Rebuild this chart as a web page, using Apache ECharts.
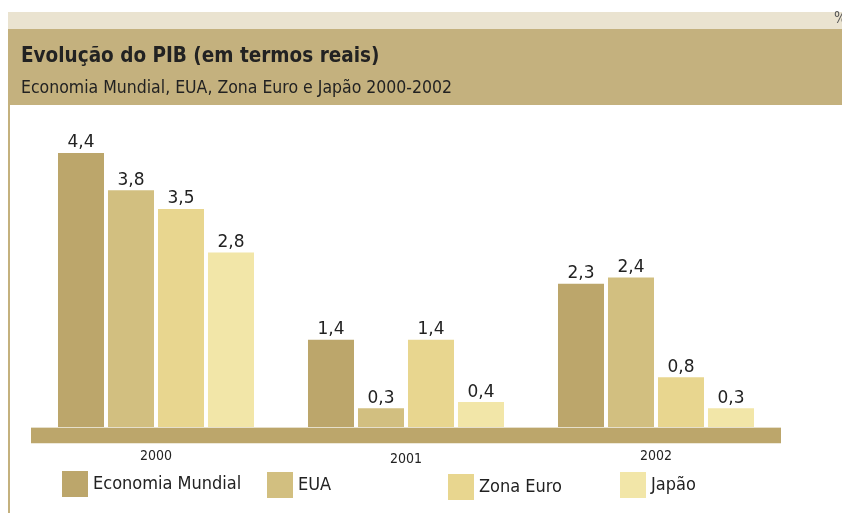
<!DOCTYPE html>
<html>
<head>
<meta charset="utf-8">
<script src="https://cdn.jsdelivr.net/npm/echarts@6/dist/echarts.min.js"></script>
<style>html,body{margin:0;padding:0;background:#fff}#c{width:842px;height:513px}</style>
</head>
<body>
<div id="c"></div>
<script>
const categories = ['2000', '2001', '2002'];
const economiaMundial = [4.4, 1.4, 2.3];
const eua = [3.8, 0.3, 2.4];
const zonaEuro = [3.5, 1.4, 0.8];
const japao = [2.8, 0.4, 0.3];
const seriesNames = ['Economia Mundial', 'EUA', 'Zona Euro', 'Japão'];
const seriesData = [economiaMundial, eua, zonaEuro, japao];
const colors = ['#BCA66B', '#D2BF80', '#E8D68F', '#F2E6A8'];

const chart = echarts.init(document.getElementById('c'));
const fmt = p => String(p.value).replace('.', ',');

const series = seriesData.map((d, i) => {
  const s = {
    name: seriesNames[i],
    type: 'bar',
    data: d,
    barWidth: 46,
    barGap: '8.7%',
    itemStyle: { color: colors[i] },
    label: {
      show: true, position: 'top', distance: 1.5, formatter: fmt,
      fontFamily: 'DejaVu Sans', fontSize: 17, color: '#222'
    },
    emphasis: { disabled: true }
  };
  if (i === 0) {
    s.markArea = {
      silent: true,
      itemStyle: { color: '#BCA66B' },
      data: [[{ yAxis: -0.26 }, { yAxis: 0 }]]
    };
    s.markLine = {
      silent: true, symbol: 'none', label: { show: false },
      lineStyle: { color: '#E6DFCB', width: 1, type: 'solid' },
      data: [{ yAxis: 0 }]
    };
  }
  return s;
});

const legendPos = [[62, 471], [267, 472], [448, 474], [620, 472]];
const legends = seriesNames.map((n, i) => ({
  data: [n], left: legendPos[i][0], top: legendPos[i][1], padding: 0,
  icon: 'rect', itemWidth: 26, itemHeight: 26, selectedMode: false,
  textStyle: { fontFamily: 'DejaVu Sans Condensed', fontSize: 18, color: '#222' }
}));

chart.setOption({
  animation: false,
  backgroundColor: '#fff',
  title: [
    {
      text: 'Evolução do PIB (em termos reais)',
      left: 21, top: 46, padding: 0,
      textStyle: { fontFamily: 'DejaVu Sans Condensed', fontSize: 20.5, fontWeight: 'bold', color: '#222' }
    },
    {
      text: 'Economia Mundial, EUA, Zona Euro e Japão 2000-2002',
      left: 21, top: 79, padding: 0,
      textStyle: { fontFamily: 'DejaVu Sans Condensed', fontSize: 17.5, fontWeight: 'normal', color: '#222' }
    }
  ],
  graphic: [
    { type: 'rect', z: -10, shape: { x: 8, y: 12, width: 834, height: 17 }, style: { fill: '#EAE3D0' } },
    { type: 'rect', z: -10, shape: { x: 8, y: 29, width: 834, height: 76 }, style: { fill: '#C4B17E' } },
    { type: 'rect', z: -10, shape: { x: 8, y: 105, width: 2, height: 408 }, style: { fill: '#C4B17E' } },
    { type: 'text', left: 834, top: 12, style: { text: '%', fontSize: 15, fill: '#555', fontFamily: 'DejaVu Sans Condensed' } }
  ],
  legend: legends,
  grid: { left: 31, width: 750, top: 115.5, height: 327.7, containLabel: false },
  xAxis: {
    type: 'category', data: categories.map((c, i) => i === 1 ? { value: c, textStyle: { padding: [3, 0, 0, 0] } } : c),
    axisLine: { show: false }, axisTick: { show: false },
    axisLabel: { fontFamily: 'DejaVu Sans Condensed', fontSize: 14, color: '#222', margin: 6 }
  },
  yAxis: {
    type: 'value', min: -0.26, max: 5,
    show: false, splitLine: { show: false }
  },
  series: series
});
</script>
</body>
</html>
